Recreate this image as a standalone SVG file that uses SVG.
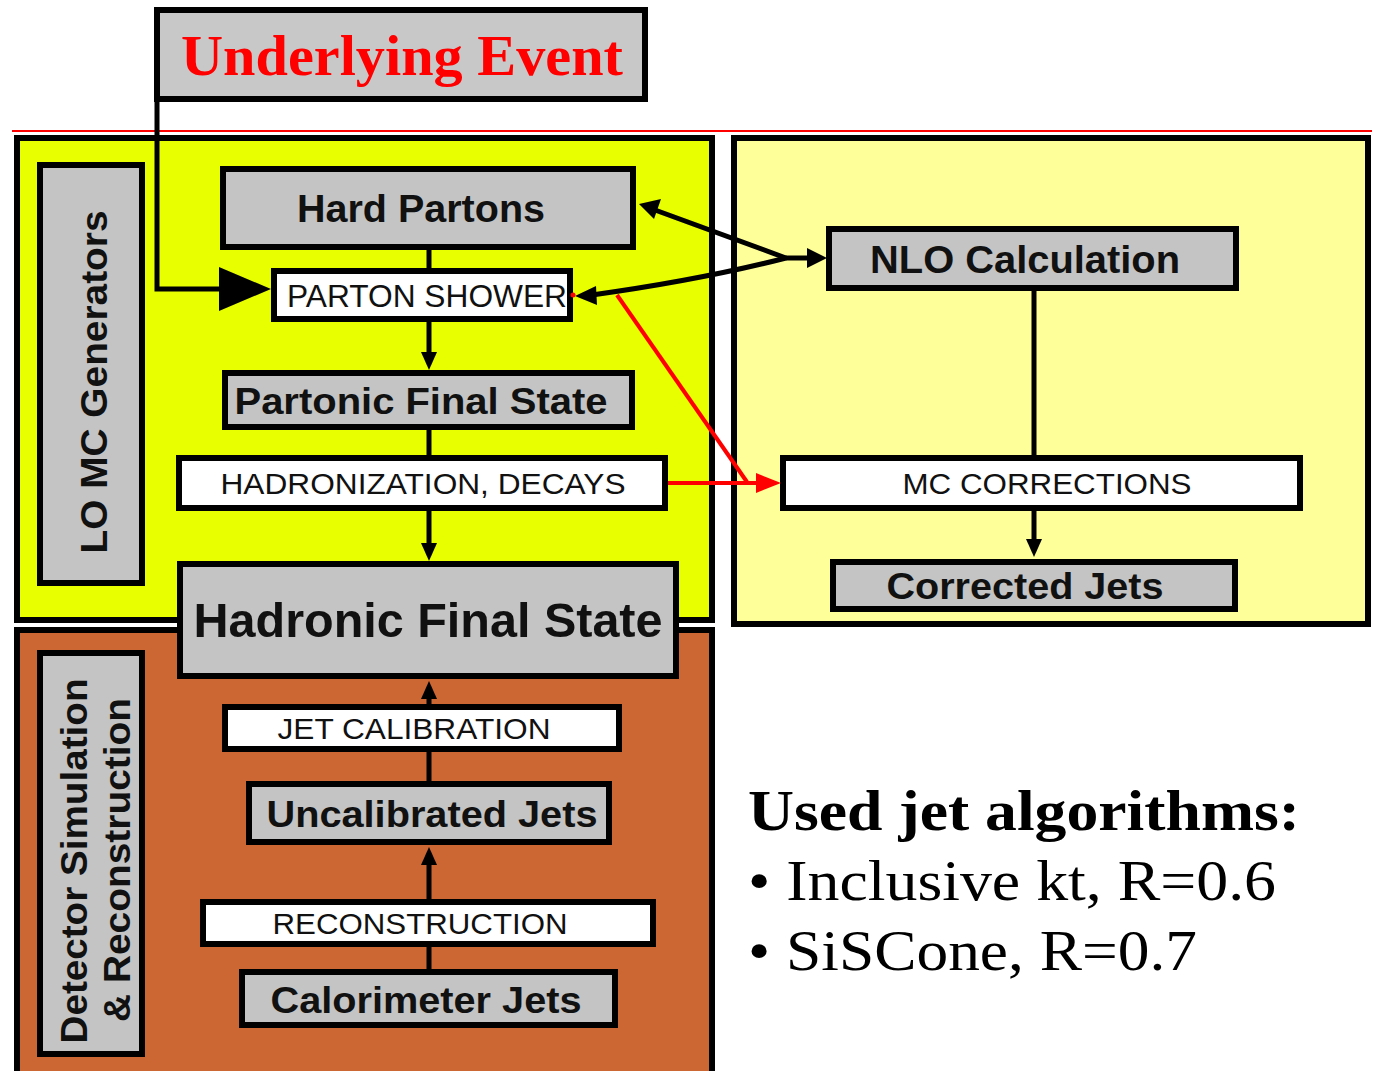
<svg xmlns="http://www.w3.org/2000/svg" width="1377" height="1071" viewBox="0 0 1377 1071">
<style>
.box{stroke:#000;stroke-width:6}
.gray{fill:#c4c4c4}
.white{fill:#fff}
.b{font-family:"Liberation Sans",Arial,sans-serif;font-weight:bold;fill:#111;text-anchor:middle}
.r{font-family:"Liberation Sans",Arial,sans-serif;fill:#111;text-anchor:middle}
.ser{font-family:"Liberation Serif","Times New Roman",serif;fill:#000}
.ln{stroke:#000;stroke-width:5;fill:none}
.thin{stroke:#000;stroke-width:5;fill:none}
.red{stroke:#f00;stroke-width:4;fill:none}
</style>
<rect width="1377" height="1071" fill="#fff"/>
<line x1="12" y1="131" x2="1372" y2="131" stroke="#f00" stroke-width="2"/>

<g id="lo-mc-region">
<rect class="box" x="17" y="138" width="695" height="482" fill="#e8ff00"/>
</g>
<g id="nlo-region">
<rect class="box" x="734" y="138" width="634" height="486" fill="#ffff99"/>
</g>
<g id="detector-region">
<rect class="box" x="17" y="630" width="695" height="445" fill="#cc6633"/>
</g>

<g id="lo-mc-label">
<rect class="box gray" x="40" y="165" width="102" height="418"/>
<text class="b" transform="translate(107,382) rotate(-90)" font-size="37" textLength="343" lengthAdjust="spacingAndGlyphs">LO MC Generators</text>
</g>
<g id="detector-label">
<rect class="box gray" x="40" y="653" width="102" height="401"/>
<text class="b" transform="translate(87,861) rotate(-90)" font-size="37" textLength="365" lengthAdjust="spacingAndGlyphs">Detector Simulation</text>
<text class="b" transform="translate(130,860) rotate(-90)" font-size="37" textLength="324" lengthAdjust="spacingAndGlyphs">&amp; Reconstruction</text>
</g>

<g id="underlying-event">
<rect class="box" x="157" y="10" width="488" height="89" fill="#c8c8c8" stroke-width="7"/>
<text class="ser" x="402" y="75" font-size="58" font-weight="bold" style="fill:#f00" text-anchor="middle" textLength="442" lengthAdjust="spacingAndGlyphs">Underlying Event</text>
</g>

<g id="hard-partons">
<rect class="box gray" x="223" y="169" width="410" height="78"/>
<text class="b" x="421" y="222" font-size="38" textLength="248" lengthAdjust="spacingAndGlyphs">Hard Partons</text>
</g>
<g id="parton-shower">
<rect class="box white" x="274" y="271" width="296" height="48"/>
<text class="r" x="427" y="307" font-size="31" textLength="280" lengthAdjust="spacingAndGlyphs">PARTON SHOWER</text>
</g>
<g id="partonic-final-state">
<rect class="box gray" x="225" y="373" width="407" height="54"/>
<text class="b" x="421" y="414" font-size="37" textLength="373" lengthAdjust="spacingAndGlyphs">Partonic Final State</text>
</g>
<g id="hadronization">
<rect class="box white" x="179" y="458" width="486" height="50"/>
<text class="r" x="423" y="494" font-size="30" textLength="405" lengthAdjust="spacingAndGlyphs">HADRONIZATION, DECAYS</text>
</g>
<g id="hadronic-final-state">
<rect class="box gray" x="180" y="564" width="496" height="112"/>
<text class="b" x="428" y="637" font-size="48" textLength="469" lengthAdjust="spacingAndGlyphs">Hadronic Final State</text>
</g>
<g id="jet-calibration">
<rect class="box white" x="225" y="707" width="394" height="42"/>
<text class="r" x="414" y="739" font-size="30" textLength="273" lengthAdjust="spacingAndGlyphs">JET CALIBRATION</text>
</g>
<g id="uncalibrated-jets">
<rect class="box gray" x="249" y="784" width="360" height="58"/>
<text class="b" x="432" y="827" font-size="37" textLength="331" lengthAdjust="spacingAndGlyphs">Uncalibrated Jets</text>
</g>
<g id="reconstruction">
<rect class="box white" x="203" y="902" width="450" height="42"/>
<text class="r" x="420" y="934" font-size="30" textLength="295" lengthAdjust="spacingAndGlyphs">RECONSTRUCTION</text>
</g>
<g id="calorimeter-jets">
<rect class="box gray" x="242" y="972" width="373" height="53"/>
<text class="b" x="426" y="1013" font-size="37" textLength="311" lengthAdjust="spacingAndGlyphs">Calorimeter Jets</text>
</g>

<g id="nlo-calculation">
<rect class="box gray" x="829" y="229" width="407" height="59"/>
<text class="b" x="1025" y="273" font-size="38" textLength="310" lengthAdjust="spacingAndGlyphs">NLO Calculation</text>
</g>
<g id="mc-corrections">
<rect class="box white" x="783" y="458" width="517" height="50"/>
<text class="r" x="1047" y="494" font-size="30" textLength="289" lengthAdjust="spacingAndGlyphs">MC CORRECTIONS</text>
</g>
<g id="corrected-jets">
<rect class="box gray" x="833" y="562" width="402" height="47"/>
<text class="b" x="1025" y="599" font-size="37" textLength="277" lengthAdjust="spacingAndGlyphs">Corrected Jets</text>
</g>

<g id="connectors">
<path class="ln" d="M157,99 V289 H224" stroke-width="6"/>
<polygon points="219,267 271,289 219,311" fill="#000"/>
<path class="ln" d="M429,247 V271"/>
<path class="ln" d="M429,319 V356"/>
<polygon points="421,352 437,352 429,370" fill="#000"/>
<path class="ln" d="M429,427 V458"/>
<path class="ln" d="M429,508 V546"/>
<polygon points="421,543 437,543 429,561" fill="#000"/>
<path class="ln" d="M429,707 V696"/>
<polygon points="421,699 437,699 429,681" fill="#000"/>
<path class="ln" d="M429,749 V784"/>
<path class="ln" d="M429,902 V862"/>
<polygon points="421,865 437,865 429,847" fill="#000"/>
<path class="ln" d="M429,944 V972"/>
<path class="ln" d="M1034,288 V458"/>
<path class="ln" d="M1034,508 V542"/>
<polygon points="1026,539 1042,539 1034,557" fill="#000"/>
<path class="thin" d="M786,258 L655,210"/>
<polygon points="639,204 661,199 654,219" fill="#000"/>
<path class="thin" d="M786,258 Q700,280 592,295"/>
<polygon points="575,296 596,286 597,305" fill="#000"/>
<path class="thin" d="M786,258 H810"/>
<polygon points="807,248 827,258 807,268" fill="#000"/>
<path class="red" d="M617,295 L747,482"/>
<path class="red" d="M668,483 H760"/>
<polygon points="756,473 781,483 756,493" fill="#f00"/>
<circle cx="573" cy="295" r="2.5" fill="#f00"/>
</g>

<g id="legend">
<text class="ser" x="748" y="830" font-size="58" font-weight="bold" textLength="552" lengthAdjust="spacingAndGlyphs">Used jet algorithms:</text>
<text class="ser" x="748" y="900" font-size="58" textLength="528" lengthAdjust="spacingAndGlyphs">• Inclusive kt, R=0.6</text>
<text class="ser" x="748" y="970" font-size="58" textLength="449" lengthAdjust="spacingAndGlyphs">• SiSCone, R=0.7</text>
</g>
</svg>
